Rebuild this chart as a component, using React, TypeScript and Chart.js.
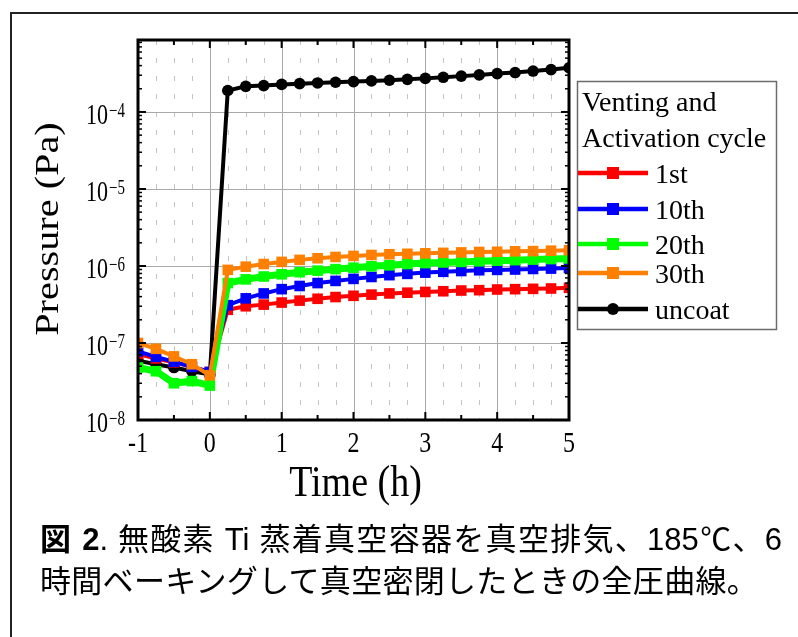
import React, { useEffect, useRef } from "react";
import { Chart, registerables } from "chart.js";

Chart.register(...registerables);

// ---- data ----
const times = [-1, -0.75, -0.5, -0.25, 0, 0.25, 0.5, 0.75, 1, 1.25, 1.5, 1.75, 2, 2.25, 2.5, 2.75, 3, 3.25, 3.5, 3.75, 4, 4.25, 4.5, 4.75, 5];

const cycle1st = [7.2e-8, 6.3e-8, 5.6e-8, 4.9e-8, 4.2e-8,
  2.7e-7, 3.0e-7, 3.15e-7, 3.35e-7, 3.55e-7, 3.75e-7, 3.95e-7, 4.1e-7, 4.25e-7, 4.4e-7,
  4.5e-7, 4.6e-7, 4.7e-7, 4.8e-7, 4.85e-7, 4.95e-7, 5.0e-7, 5.05e-7, 5.1e-7, 5.2e-7];
const cycle10th = [7.8e-8, 6.6e-8, 5.7e-8, 4.9e-8, 4.2e-8,
  3.1e-7, 3.8e-7, 4.4e-7, 5.0e-7, 5.5e-7, 6.0e-7, 6.4e-7, 6.8e-7, 7.2e-7, 7.6e-7,
  7.9e-7, 8.2e-7, 8.4e-7, 8.6e-7, 8.8e-7, 8.9e-7, 9.0e-7, 9.15e-7, 9.25e-7, 9.4e-7];
const cycle20th = [4.8e-8, 4.3e-8, 3.0e-8, 3.2e-8, 2.8e-8,
  6.0e-7, 6.7e-7, 7.3e-7, 7.8e-7, 8.3e-7, 8.7e-7, 9.1e-7, 9.5e-7, 9.9e-7, 1.02e-6,
  1.06e-6, 1.09e-6, 1.11e-6, 1.13e-6, 1.15e-6, 1.17e-6, 1.19e-6, 1.21e-6, 1.23e-6, 1.25e-6];
const cycle30th = [1.0e-7, 8.4e-8, 6.7e-8, 5.3e-8, 3.8e-8,
  8.9e-7, 9.8e-7, 1.06e-6, 1.13e-6, 1.2e-6, 1.26e-6, 1.31e-6, 1.35e-6, 1.39e-6, 1.42e-6,
  1.44e-6, 1.46e-6, 1.48e-6, 1.5e-6, 1.52e-6, 1.53e-6, 1.55e-6, 1.56e-6, 1.58e-6, 1.6e-6];
const uncoat = [5.9e-8, 5.3e-8, 4.8e-8, 4.3e-8, 3.9e-8,
  1.9e-4, 2.15e-4, 2.2e-4, 2.28e-4, 2.33e-4, 2.38e-4, 2.43e-4, 2.48e-4, 2.53e-4, 2.58e-4,
  2.65e-4, 2.73e-4, 2.82e-4, 2.92e-4, 3.03e-4, 3.15e-4, 3.25e-4, 3.4e-4, 3.55e-4, 3.75e-4];

const seriesLabels = ["1st", "10th", "20th", "30th", "uncoat"];
const seriesColors = ["#ff0000", "#0000ff", "#00ff00", "#ff8000", "#000000"];
const legendTitle = ["Venting and", "Activation cycle"];
const xTickValues = [-1, 0, 1, 2, 3, 4, 5];
const yTickExponents = [-8, -7, -6, -5, -4];
const xTitle = "Time (h)";
const yTitle = "Pressure (Pa)";
const captionLine1Bold = "図 2";
const captionLine1 = ".  無酸素 Ti 蒸着真空容器を真空排気、185℃、6";
const captionLine2 = "時間ベーキングして真空密閉したときの全圧曲線。";

const X_MIN = -1;
const X_MAX = 5;
const Y_MIN = 1e-8;
const Y_MAX = 8.6e-4;

const SERIF = '"Liberation Serif", "Times New Roman", serif';

function drawText(ctx: CanvasRenderingContext2D, text: string, x: number, y: number, size: number,
  sx: number, sy: number, align: CanvasTextAlign, rot = 0) {
  ctx.save();
  ctx.translate(x, y);
  if (rot) ctx.rotate(rot);
  ctx.scale(sx, sy);
  ctx.font = `${size}px ${SERIF}`;
  ctx.textAlign = align;
  ctx.textBaseline = "alphabetic";
  ctx.fillStyle = "#000";
  ctx.fillText(text, 0, 0);
  ctx.restore();
}

function seg(ctx: CanvasRenderingContext2D, x1: number, y1: number, x2: number, y2: number) {
  ctx.beginPath();
  ctx.moveTo(x1, y1);
  ctx.lineTo(x2, y2);
  ctx.stroke();
}

const decorPlugin = {
  id: "decor",
  beforeDatasetsDraw(chart: any) {
    const { ctx, chartArea: a, scales } = chart;
    const x = scales.x, y = scales.y;
    ctx.save();
    ctx.lineWidth = 1;
    ctx.strokeStyle = "#c4c4c4";
    ctx.setLineDash([5, 13]);
    const nMinor = Math.round((X_MAX - X_MIN) / 0.25);
    for (let k = 0; k <= nMinor; k++) {
      const v = X_MIN + k * 0.25;
      if (Math.abs(v - Math.round(v)) < 1e-6) continue;
      const px = Math.round(x.getPixelForValue(v)) + 0.5;
      seg(ctx, px, a.top, px, a.bottom);
    }
    ctx.setLineDash([]);
    ctx.strokeStyle = "#a9a9a9";
    for (const v of xTickValues) {
      const px = Math.round(x.getPixelForValue(v)) + 0.5;
      seg(ctx, px, a.top, px, a.bottom);
    }
    for (const e of yTickExponents) {
      const py = Math.round(y.getPixelForValue(Math.pow(10, e))) + 0.5;
      seg(ctx, a.left, py, a.right, py);
    }
    ctx.restore();
  },
  afterDatasetsDraw(chart: any) {
    const { ctx, chartArea: a, scales } = chart;
    const x = scales.x, y = scales.y;
    ctx.save();
    ctx.strokeStyle = "#000";
    ctx.lineWidth = 2;
    for (const v of xTickValues) {
      const px = x.getPixelForValue(v);
      seg(ctx, px, a.bottom, px, a.bottom - 8);
      seg(ctx, px, a.top, px, a.top + 8);
    }
    for (let v = X_MIN + 0.5; v < X_MAX; v += 1) {
      const px = x.getPixelForValue(v);
      seg(ctx, px, a.bottom, px, a.bottom - 5);
      seg(ctx, px, a.top, px, a.top + 5);
    }
    for (const e of yTickExponents) {
      const py = y.getPixelForValue(Math.pow(10, e));
      seg(ctx, a.left, py, a.left + 8, py);
      seg(ctx, a.right, py, a.right - 8, py);
    }
    ctx.lineWidth = 1.5;
    for (let e = -8; e <= -4; e++) {
      for (let m = 2; m <= 9; m++) {
        const val = m * Math.pow(10, e);
        if (val > Y_MAX) continue;
        const py = y.getPixelForValue(val);
        seg(ctx, a.left, py, a.left + 4, py);
        seg(ctx, a.right, py, a.right - 4, py);
      }
    }
    ctx.lineWidth = 3;
    ctx.strokeRect(a.left, a.top, a.right - a.left, a.bottom - a.top);
    ctx.restore();
  },
  afterDraw(chart: any) {
    const { ctx, chartArea: a, scales } = chart;
    const x = scales.x, y = scales.y;
    for (const v of xTickValues) {
      drawText(ctx, String(v), x.getPixelForValue(v), a.bottom + 32, 24, 1, 1.22, "center");
    }
    for (const e of yTickExponents) {
      const py = y.getPixelForValue(Math.pow(10, e));
      const rx = a.left - 30;
      drawText(ctx, "10", rx, py + 12, 22, 1, 1.35, "right");
      drawText(ctx, "\u2212" + String(Math.abs(e)), rx + 1, py + 5, 15, 1, 1.35, "left");
    }
    drawText(ctx, xTitle, (a.left + a.right) / 2 + 2, a.bottom + 76, 38, 1, 1.15, "center");
    drawText(ctx, yTitle, 58, (a.top + a.bottom) / 2 - 1, 33, 1.22, 1, "center", -Math.PI / 2);

    ctx.save();
    ctx.strokeStyle = "#6b6b6b";
    ctx.lineWidth = 1.5;
    ctx.strokeRect(577.5, 81.5, 199, 248);
    ctx.restore();
    drawText(ctx, legendTitle[0], 582, 111, 28, 1, 1, "left");
    drawText(ctx, legendTitle[1], 582, 147, 28, 1, 1, "left");
    const rows = [173, 209, 244, 273, 309];
    chart.data.datasets.forEach((ds: any, i: number) => {
      const ly = rows[i];
      ctx.save();
      ctx.strokeStyle = ds.borderColor;
      ctx.lineWidth = 4.5;
      seg(ctx, 578, ly, 648, ly);
      ctx.fillStyle = ds.borderColor;
      if (ds.pointStyle === "circle") {
        ctx.beginPath();
        ctx.arc(613, ly, 6, 0, Math.PI * 2);
        ctx.fill();
      } else {
        ctx.fillRect(613 - 6, ly - 6, 12, 12);
      }
      ctx.restore();
      drawText(ctx, ds.label, 655, ly + 10, 28, 1, 1, "left");
    });
  },
};

function makeDataset(label: string, values: number[], color: string, style: string, order: number, width: number) {
  const r = style === "circle" ? 5.8 : 7.5;
  return {
    label,
    data: times.map((t, i) => ({ x: t, y: values[i] })),
    borderColor: color,
    backgroundColor: color,
    borderWidth: width,
    pointStyle: style,
    pointRadius: r,
    pointBorderWidth: 0,
    pointBackgroundColor: color,
    pointHoverRadius: r,
    tension: 0,
    clip: 0,
    order,
  };
}

export default function App() {
  const ref = useRef<HTMLCanvasElement>(null);
  useEffect(() => {
    if (!ref.current) return;
    const series = [cycle1st, cycle10th, cycle20th, cycle30th, uncoat];
    const orders = [4, 3, 2, 1, 5];
    const datasets = series.map((vals, i) =>
      makeDataset(seriesLabels[i], vals, seriesColors[i], i === 4 ? "circle" : "rect", orders[i], i === 2 ? 7 : 4)
    );
    const chart = new Chart(ref.current, {
      type: "line",
      data: { datasets: datasets as any },
      options: {
        responsive: false,
        maintainAspectRatio: false,
        animation: false,
        devicePixelRatio: 1,
        layout: { padding: { left: 138, top: 40, right: 229, bottom: 217 } },
        scales: {
          x: { type: "linear", min: X_MIN, max: X_MAX, display: false },
          y: { type: "logarithmic", min: Y_MIN, max: Y_MAX, display: false },
        },
        plugins: { legend: { display: false }, tooltip: { enabled: false } },
        events: [],
      },
      plugins: [decorPlugin],
    });
    return () => chart.destroy();
  }, []);

  const captionFont = '"Liberation Sans", Arial, "Noto Sans CJK JP", sans-serif';
  return (
    <div style={{ position: "absolute", left: 0, top: 0, width: 798, height: 637, background: "#fff", overflow: "hidden" }}>
      <canvas ref={ref} width={798} height={637} style={{ position: "absolute", left: 0, top: 0, width: 798, height: 637 }} />
      <div style={{ position: "absolute", left: 10, top: 12, width: 788, height: 625, borderTop: "2px solid #222", borderLeft: "2px solid #222", boxSizing: "border-box", pointerEvents: "none" }} />
      <div style={{ position: "absolute", left: 40, top: 524, width: 742, fontFamily: captionFont, fontSize: 31, lineHeight: "32px", textAlign: "justify", textAlignLast: "justify" as any, whiteSpace: "nowrap", color: "#000" }}>
        <span style={{ fontWeight: "bold" }}>{captionLine1Bold}</span>
        <span>{captionLine1}</span>
      </div>
      <div style={{ position: "absolute", left: 40, top: 566, fontFamily: captionFont, fontSize: 31, lineHeight: "32px", letterSpacing: "0.3px", whiteSpace: "nowrap", color: "#000" }}>
        {captionLine2}
      </div>
    </div>
  );
}
